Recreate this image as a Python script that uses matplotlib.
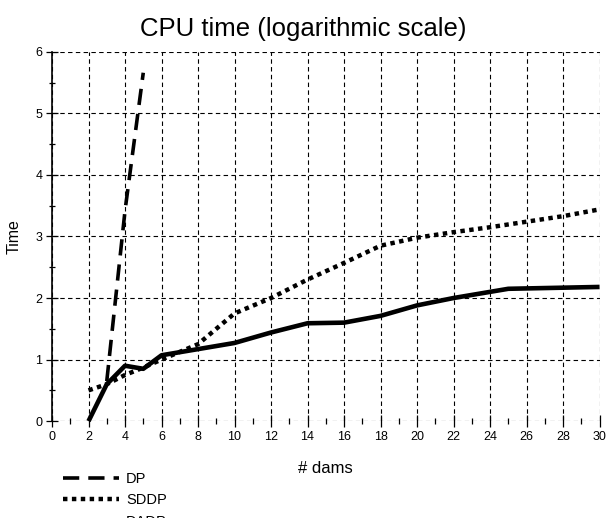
import matplotlib.pyplot as plt
from matplotlib.ticker import MultipleLocator
from matplotlib.lines import Line2D

plt.rcParams['font.family'] = ['Liberation Sans', 'DejaVu Sans']

# data
dp_x = [3, 4, 5]
dp_y = [0.65, 3.42, 5.66]
sddp_x = [2, 3, 4, 5, 6, 8, 10, 12, 14, 16, 18, 20, 22, 24, 26, 28, 30]
sddp_y = [0.5, 0.6, 0.75, 0.87, 1.0, 1.25, 1.75, 2.0, 2.3, 2.57, 2.85, 2.98, 3.07, 3.15, 3.24, 3.33, 3.44]
dadp_x = [2, 3, 4, 5, 6, 8, 10, 12, 14, 16, 18, 20, 22, 24, 25, 30]
dadp_y = [0, 0.6, 0.9, 0.85, 1.07, 1.17, 1.27, 1.44, 1.59, 1.6, 1.71, 1.88, 2.0, 2.1, 2.15, 2.18]

fig = plt.figure(figsize=(6.07, 5.18), dpi=100)
ax = fig.add_axes([0.0857, 0.187, 0.902, 0.713])

ax.plot(dp_x, dp_y, color='black', lw=2.6, dashes=(4.5, 2.5), clip_on=False)
ax.plot(sddp_x, sddp_y, color='black', lw=3.2, dashes=(1, 1), clip_on=False)
ax.plot(dadp_x, dadp_y, color='black', lw=3.3, solid_capstyle='butt', clip_on=False)

ax.set_xlim(0, 30)
ax.set_ylim(0, 6)
ax.xaxis.set_major_locator(MultipleLocator(2))
ax.xaxis.set_minor_locator(MultipleLocator(1))
ax.yaxis.set_major_locator(MultipleLocator(1))
ax.yaxis.set_minor_locator(MultipleLocator(0.5))
ax.grid(True, which='major', color='black', lw=0.8, linestyle=(0, (4, 3)))
ax.set_axisbelow(True)

for s in ['top', 'right', 'bottom']:
    ax.spines[s].set_visible(False)
ax.spines['left'].set_linewidth(1.2)

ax.tick_params(which='major', direction='inout', length=8, width=0.9, labelsize=9, pad=3)
ax.tick_params(which='minor', direction='inout', length=4, width=0.9)

fig.suptitle('CPU time (logarithmic scale)', fontsize=18.5, x=0.5, y=0.968)
ax.set_xlabel('# dams', fontsize=12, labelpad=13)
ax.set_ylabel('Time', fontsize=11.5, labelpad=10)

handles = [Line2D([], [], color='black', lw=2.6, dashes=(4.5, 2.5)),
           Line2D([], [], color='black', lw=3.2, dashes=(1, 1)),
           Line2D([], [], color='black', lw=3.3)]
fig.legend(handles, ['DP', 'SDDP', 'DADP'], loc='upper left',
           bbox_to_anchor=(0.095, 0.1), frameon=False, fontsize=10.5,
           handlelength=3.8, labelspacing=0.5, handletextpad=0.5, borderaxespad=0)

fig.savefig('out.png', dpi=100)
